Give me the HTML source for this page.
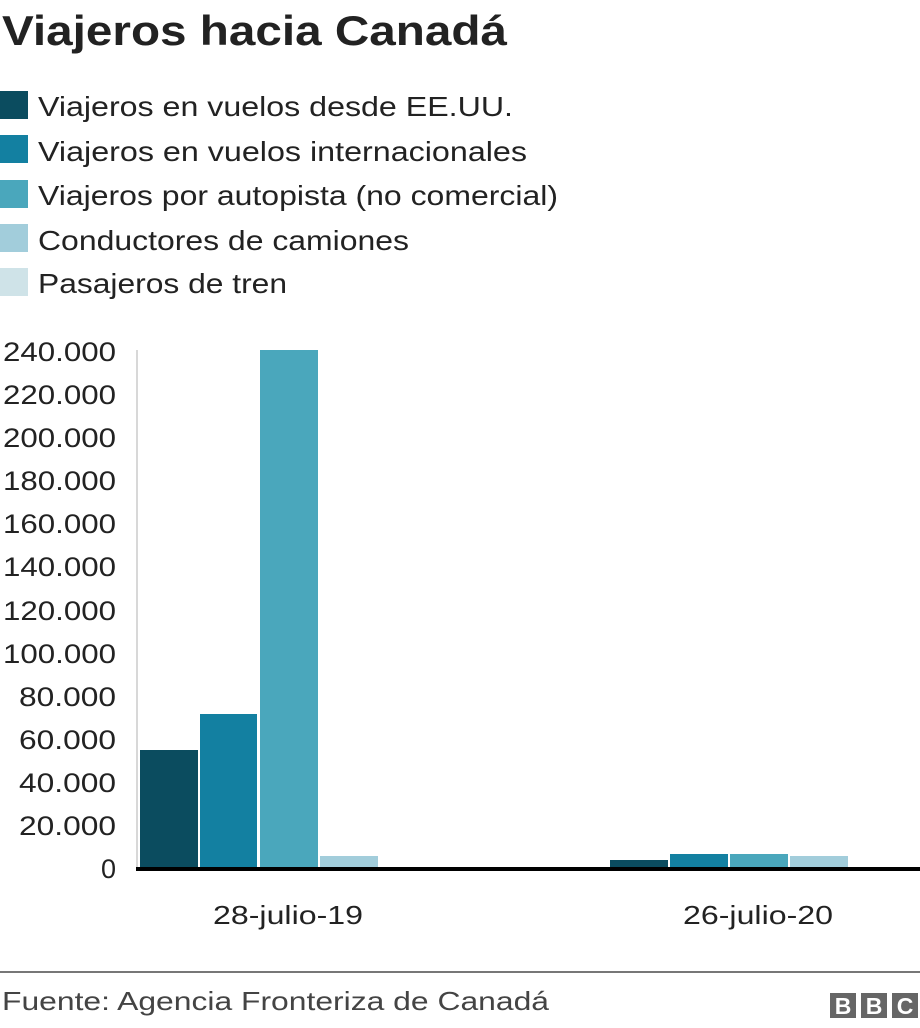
<!DOCTYPE html>
<html><head><meta charset="utf-8"><style>
body{margin:0;width:920px;height:1028px;background:#fff;font-family:"Liberation Sans",Arial,sans-serif;color:#222;overflow:hidden;position:relative}
</style></head><body>
<svg width="920" height="1028" style="position:absolute;left:0;top:0" font-family="Liberation Sans, Arial, sans-serif">
<text x="2" y="45" font-size="42" font-weight="bold" fill="#222" textLength="505" lengthAdjust="spacingAndGlyphs">Viajeros hacia Canadá</text>
<g font-size="28" fill="#222">
<rect x="0" y="91" width="28" height="28" fill="#0b4c5f"/><text x="38" y="116" textLength="475" lengthAdjust="spacingAndGlyphs">Viajeros en vuelos desde EE.UU.</text>
<rect x="0" y="135" width="28" height="28" fill="#1380a1"/><text x="38" y="161" textLength="489" lengthAdjust="spacingAndGlyphs">Viajeros en vuelos internacionales</text>
<rect x="0" y="180" width="28" height="28" fill="#4aa7bc"/><text x="38" y="205" textLength="520" lengthAdjust="spacingAndGlyphs">Viajeros por autopista (no comercial)</text>
<rect x="0" y="224" width="28" height="28" fill="#a2cddb"/><text x="38" y="250" textLength="371" lengthAdjust="spacingAndGlyphs">Conductores de camiones</text>
<rect x="0" y="268" width="28" height="28" fill="#cfe3e8"/><text x="38" y="293" textLength="249" lengthAdjust="spacingAndGlyphs">Pasajeros de tren</text>
</g>
<line x1="137" y1="350" x2="137" y2="867" stroke="#ccc" stroke-width="1.5"/>
<g font-size="27" fill="#222" text-anchor="end">
<text x="116" y="878">0</text>
<text x="116" y="835" textLength="97" lengthAdjust="spacingAndGlyphs">20.000</text>
<text x="116" y="792" textLength="97" lengthAdjust="spacingAndGlyphs">40.000</text>
<text x="116" y="749" textLength="97" lengthAdjust="spacingAndGlyphs">60.000</text>
<text x="116" y="706" textLength="97" lengthAdjust="spacingAndGlyphs">80.000</text>
<text x="116" y="663" textLength="113" lengthAdjust="spacingAndGlyphs">100.000</text>
<text x="116" y="620" textLength="113" lengthAdjust="spacingAndGlyphs">120.000</text>
<text x="116" y="576" textLength="113" lengthAdjust="spacingAndGlyphs">140.000</text>
<text x="116" y="533" textLength="113" lengthAdjust="spacingAndGlyphs">160.000</text>
<text x="116" y="490" textLength="113" lengthAdjust="spacingAndGlyphs">180.000</text>
<text x="116" y="447" textLength="113" lengthAdjust="spacingAndGlyphs">200.000</text>
<text x="116" y="404" textLength="113" lengthAdjust="spacingAndGlyphs">220.000</text>
<text x="116" y="361" textLength="113" lengthAdjust="spacingAndGlyphs">240.000</text>
</g>
<rect x="140" y="750" width="58" height="117" fill="#0b4c5f"/>
<rect x="200" y="714" width="57" height="153" fill="#1380a1"/>
<rect x="260" y="350" width="58" height="517" fill="#4aa7bc"/>
<rect x="320" y="856" width="58" height="11" fill="#a2cddb"/>
<rect x="610" y="860" width="58" height="7" fill="#0b4c5f"/>
<rect x="670" y="854" width="58" height="13" fill="#1380a1"/>
<rect x="730" y="854" width="58" height="13" fill="#4aa7bc"/>
<rect x="790" y="856" width="58" height="11" fill="#a2cddb"/>
<rect x="136" y="867" width="784" height="4" fill="#000"/>
<g font-size="26" fill="#222">
<text x="213" y="924" textLength="150" lengthAdjust="spacingAndGlyphs">28-julio-19</text>
<text x="683" y="924" textLength="150" lengthAdjust="spacingAndGlyphs">26-julio-20</text>
</g>
<rect x="0" y="971" width="920" height="2" fill="#777"/>
<text x="2" y="1010" font-size="26" fill="#444" textLength="547" lengthAdjust="spacingAndGlyphs">Fuente: Agencia Fronteriza de Canadá</text>
<g fill="#666"><rect x="830" y="993" width="26" height="25"/><rect x="861" y="993" width="26" height="25"/><rect x="892" y="993" width="26" height="25"/></g>
<g font-size="23" font-weight="bold" fill="#fff" text-anchor="middle"><text x="843" y="1014">B</text><text x="874" y="1014">B</text><text x="905" y="1014">C</text></g>
</svg>
</body></html>
